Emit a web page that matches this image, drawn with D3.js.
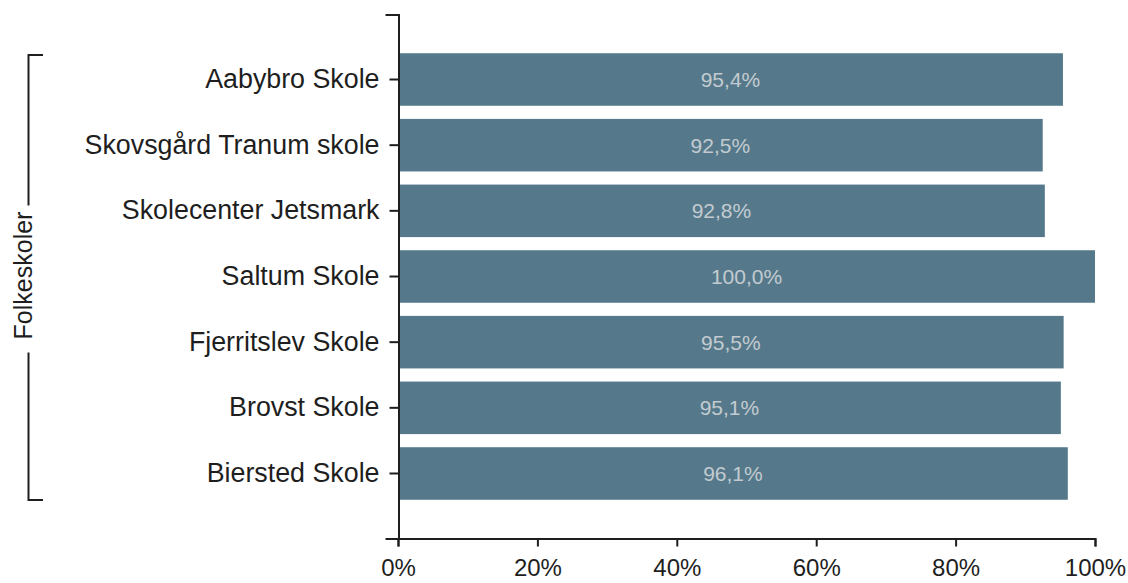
<!DOCTYPE html>
<html><head><meta charset="utf-8">
<script src="https://cdn.jsdelivr.net/npm/d3@7"></script>
<style>
html,body{margin:0;padding:0;background:#fff;}
svg text{font-family:"Liberation Sans",Arial,sans-serif;}
</style></head>
<body>
<svg id="c" width="1128" height="583"></svg>
<script>
const schools = ["Aabybro Skole","Skovsgård Tranum skole","Skolecenter Jetsmark","Saltum Skole","Fjerritslev Skole","Brovst Skole","Biersted Skole"];
const values = [95.4, 92.5, 92.8, 100.0, 95.5, 95.1, 96.1];
const xTicks = [0, 20, 40, 60, 80, 100];
const groupLabel = "Folkeskoler";

const svg = d3.select("#c");
const x = d3.scaleLinear().domain([0,100]).range([398,1095]);
const y = d3.scaleBand().domain(schools).range([14.5,538.5]).paddingInner(0.2).paddingOuter(0.59);

const barColor = "#55798b";
svg.append("g").selectAll("rect").data(schools).join("rect")
  .attr("x", x(0)).attr("y", d=>y(d))
  .attr("width", (d,i)=>x(values[i])-x(0)).attr("height", y.bandwidth())
  .attr("fill", barColor);

const fmt = v => v.toFixed(1).replace(".", ",") + "%";
svg.append("g").selectAll("text").data(schools).join("text")
  .attr("x", (d,i)=>(x(0)+x(values[i]))/2)
  .attr("y", d=>y(d)+y.bandwidth()/2)
  .attr("dy","0.35em").attr("text-anchor","middle")
  .attr("font-size","21px").attr("fill","#c3cbd0")
  .text((d,i)=>fmt(values[i]));

const yAxis = svg.append("g").attr("transform","translate(398.5,0)")
  .call(d3.axisLeft(y).tickSize(9).tickSizeOuter(13).tickPadding(10));
yAxis.selectAll("text").attr("font-size","26.8px").attr("fill","#1e1e1e").attr("font-family","Liberation Sans, Arial, sans-serif");
yAxis.selectAll("path,line").attr("stroke","#1e1e1e").attr("stroke-width",2);

const xAxis = svg.append("g").attr("transform","translate(0,538.5)")
  .call(d3.axisBottom(x).tickValues(xTicks).tickFormat(d=>d+"%").tickSize(8).tickSizeOuter(8).tickPadding(12));
xAxis.selectAll("text").attr("font-size","24px").attr("fill","#1e1e1e").attr("font-family","Liberation Sans, Arial, sans-serif");
xAxis.selectAll("path,line").attr("stroke","#1e1e1e").attr("stroke-width",2);

// group bracket
const bTop = 55, bBot = 500, bx = 28.5, cy = (bTop+bBot)/2;
const g = svg.append("g").attr("stroke","#1e1e1e").attr("stroke-width",2).attr("fill","none");
g.append("path").attr("d",`M43,${bTop}H${bx}V${cy-72}`);
g.append("path").attr("d",`M${bx},${cy+75}V${bBot}H43`);
svg.append("text").attr("transform",`translate(23.5,${cy-2}) rotate(-90)`)
  .attr("text-anchor","middle").attr("dy","0.35em")
  .attr("font-size","25px").attr("fill","#1e1e1e").text(groupLabel);
</script>
</body></html>
